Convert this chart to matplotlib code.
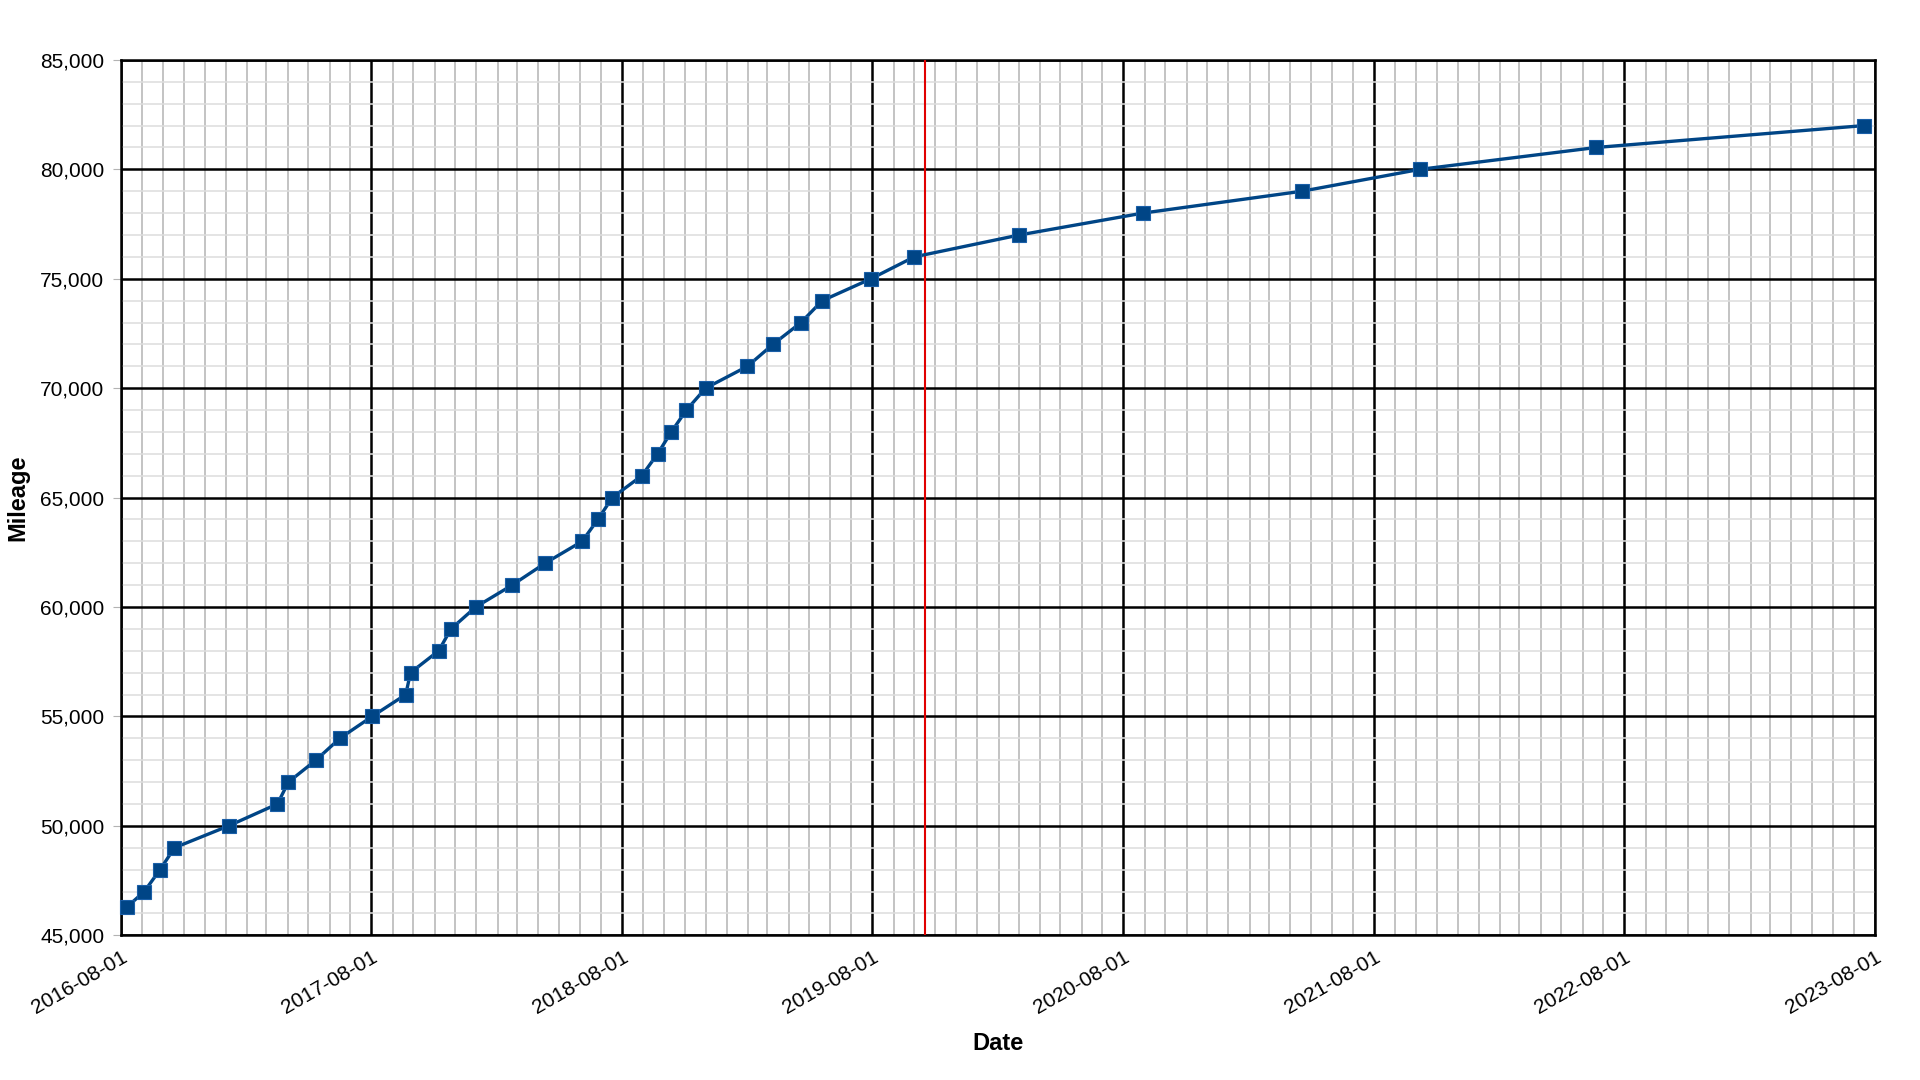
import matplotlib
matplotlib.use('AGG')
import matplotlib.pyplot as plt
import matplotlib.dates as mdates
import matplotlib.ticker as mticker
import numpy as np
from datetime import datetime

# odometer readings
dates = ['2016-08-10', '2016-09-04', '2016-09-27', '2016-10-18', '2017-01-05',
         '2017-03-17', '2017-04-02', '2017-05-12', '2017-06-16', '2017-08-02',
         '2017-09-20', '2017-09-27', '2017-11-07', '2017-11-25', '2017-12-31',
         '2018-02-22', '2018-04-11', '2018-06-04', '2018-06-27', '2018-07-18',
         '2018-08-30', '2018-09-22', '2018-10-12', '2018-11-03', '2018-12-01',
         '2019-01-31', '2019-03-09', '2019-04-19', '2019-05-20', '2019-07-30',
         '2019-10-01', '2020-03-02', '2020-08-29', '2021-04-18', '2021-10-07',
         '2022-06-21', '2023-07-16']
mileage = [46300, 47000, 48000, 49000, 50000,
           51000, 52000, 53000, 54000, 55000,
           56000, 57000, 58000, 59000, 60000,
           61000, 62000, 63000, 64000, 65000,
           66000, 67000, 68000, 69000, 70000,
           71000, 72000, 73000, 74000, 75000,
           76000, 77000, 78000, 79000, 80000,
           81000, 82000]
marker_date = '2019-10-17'  # red vertical line

x = [datetime.strptime(d, '%Y-%m-%d') for d in dates]

plt.rcParams['font.family'] = ['Liberation Sans', 'DejaVu Sans']

fig = plt.figure(figsize=(19.2, 10.8), dpi=100)
ax = fig.add_axes([0.063, 0.134, 0.9135, 0.8105])

ax.set_xlim(datetime(2016, 8, 1), datetime(2023, 8, 1))
ax.set_ylim(45000, 85000)

ax.xaxis.set_major_locator(mdates.YearLocator(month=8, day=1))
ax.xaxis.set_minor_locator(mdates.MonthLocator())
ax.xaxis.set_major_formatter(mdates.DateFormatter('%Y-%m-%d'))
ax.yaxis.set_major_locator(mticker.MultipleLocator(5000))
ax.yaxis.set_minor_locator(mticker.MultipleLocator(1000))
ax.yaxis.set_major_formatter(mticker.StrMethodFormatter('{x:,.0f}'))

# grid: light minor, black major
ax.grid(which='minor', axis='x', color='#b3b3b3', linewidth=1.1)
ax.grid(which='minor', axis='y', color='#dddddd', linewidth=1.1)
ax.grid(which='major', color='black', linewidth=1.8)
ax.set_axisbelow(True)

for s in ax.spines.values():
    s.set_color('black')
    s.set_linewidth(1.8)

ax.tick_params(axis='y', which='major', length=6, color='#b3b3b3', labelsize=15, pad=6)
ax.tick_params(axis='x', which='major', length=0, labelsize=15, pad=9)
ax.tick_params(which='minor', length=0)
plt.setp(ax.get_xticklabels(), rotation=30, ha='right', rotation_mode='anchor')

ax.axvline(datetime.strptime(marker_date, '%Y-%m-%d'), color='#e00000', linewidth=1.5, zorder=3)

ax.plot(x, mileage, color='#004586', linewidth=2.4, marker='s', markersize=9.5,
        markerfacecolor='#004586', markeredgecolor='#1a5fa8', markeredgewidth=0.8,
        zorder=4, clip_on=False)

ax.set_xlabel('Date', fontsize=17, fontweight='bold', labelpad=10)
ax.set_ylabel('Mileage', fontsize=17, fontweight='bold', labelpad=8)

fig.savefig('out.png', dpi=100)
